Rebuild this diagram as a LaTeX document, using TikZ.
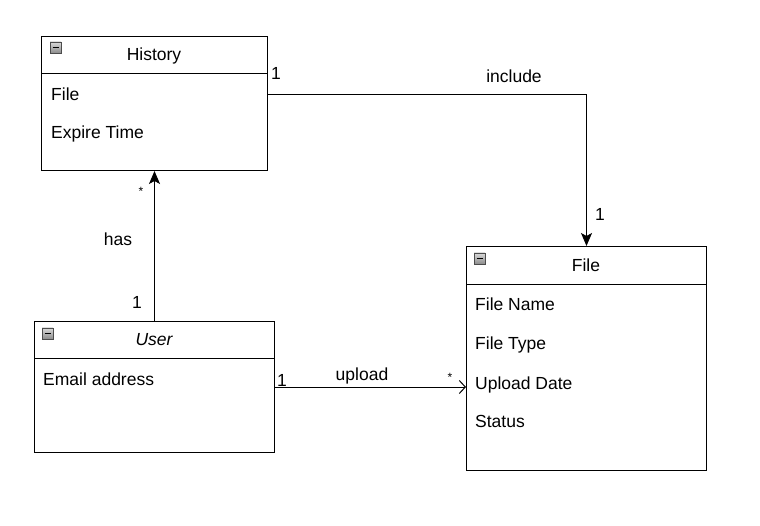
\documentclass[tikz,border=0pt]{standalone}
\usepackage{fontspec}
\setmainfont{Liberation Sans}
\usetikzlibrary{arrows.meta,calc}
\begin{document}
\begin{tikzpicture}[x=1pt,y=-1pt,
  every node/.style={font=\fontsize{17.5}{20}\selectfont},
  classbox/.style={draw,line width=1pt,anchor=north west,inner sep=0pt},
  attr/.style={anchor=base west,inner sep=0pt},
  lbl/.style={anchor=base,inner sep=0pt},
  star/.style={inner sep=0pt,font=\fontsize{12}{12}\selectfont},
  conn/.style={line width=1pt},
  filled/.style={-{Stealth[length=13pt,width=11pt,inset=3pt]}},
  openarr/.style={-{Straight Barb[length=6pt,width=13pt,line width=1pt]}}]
\useasboundingbox (0,0) rectangle (760,526);
\newcommand{\minusicon}[2]{%
  \draw[line width=0.6pt,draw=black!70,top color=black!15,bottom color=black!45] (#1,#2) rectangle ++(11,11);
  \draw[line width=1.2pt] ($(#1,#2)+(2.5,5.5)$) -- ++(6,0);}
% History
\node[classbox,minimum width=226pt,minimum height=134pt] (hist) at (41,36) {};
\draw[line width=1pt] (41,74) -- (267,74);
\minusicon{50}{42}
\node[lbl] (histT) at (154,61) {History};
\node[attr] (histFile) at (51,101) {File};
\node[attr] (histExp) at (51,139) {Expire Time};
% User
\node[classbox,minimum width=240pt,minimum height=131pt] (user) at (34,321) {};
\draw[line width=1pt] (34,359) -- (274,359);
\minusicon{42}{328}
\node[lbl] (userT) at (154,346) {\itshape User};
\node[attr] (userMail) at (43,385) {Email address};
% File
\node[classbox,minimum width=240pt,minimum height=224pt] (file) at (466,246) {};
\draw[line width=1pt] (466,285) -- (706,285);
\minusicon{474}{253}
\node[lbl] (fileT) at (586,272) {File};
\node[attr] (fName) at (475,311) {File Name};
\node[attr] (fType) at (475,349) {File Type};
\node[attr] (fDate) at (475,389) {Upload Date};
\node[attr] (fStat) at (475,427) {Status};
% connectors
\draw[conn,filled] (hist.east |- histFile) -| (file.north);
\draw[conn,filled] (user.north) -- (hist.south);
\draw[conn,openarr] (user.east) -- (user.east -| file.west);
% labels
\node[lbl] (l1) at (276,80) {1};
\node[lbl] (l2) at (514,83) {include};
\node[lbl] (l3) at (600,221) {1};
\node[star] (l4) at (141,191) {*};
\node[lbl] (l5) at (118,246) {has};
\node[lbl] (l6) at (137,309) {1};
\node[lbl] (l7) at (282,386) {1};
\node[lbl] (l8) at (362,380) {upload};
\node[star] (l9) at (450,377) {*};
\end{tikzpicture}
\end{document}
